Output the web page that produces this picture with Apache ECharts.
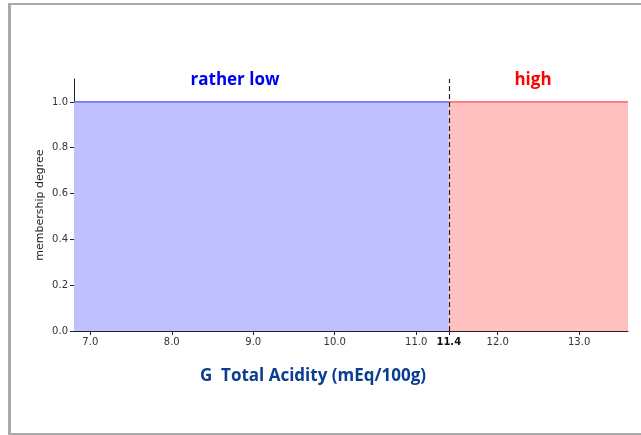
<!DOCTYPE html>
<html><head><meta charset="utf-8">
<script src="https://cdn.jsdelivr.net/npm/echarts@6/dist/echarts.min.js"></script>
<style>html,body{margin:0;padding:0;background:#fff}#c{width:641px;height:435px}</style>
</head><body><div id="c"></div>
<script>
const xRange = [6.8, 13.6];
const yRange = [0, 1.1];
const xTicks = [7.0, 8.0, 9.0, 10.0, 11.0, 11.4, 12.0, 13.0];
const yTicks = [0.0, 0.2, 0.4, 0.6, 0.8, 1.0];
const boundary = 11.4;
const ratherLow = [[6.8, 1.0], [11.4, 1.0]];
const high = [[11.4, 1.0], [13.6, 1.0]];
const labelLow = 'rather low';
const labelHigh = 'high';
const xTitle = 'G  Total Acidity (mEq/100g)';
const yTitle = 'membership degree';

const chart = echarts.init(document.getElementById('c'), null, {renderer: 'canvas'});
const tickFont = {fontFamily: 'DejaVu Sans', fontSize: 10, color: '#333'};
chart.setOption({
  animation: false,
  grid: {left: 74, right: 13, top: 79, bottom: 104, containLabel: false},
  xAxis: {
    type: 'value', min: xRange[0], max: xRange[1],
    splitLine: {show: false},
    axisLine: {show: true, onZero: false, lineStyle: {color: '#222', width: 1}},
    axisTick: {show: true, length: 4, customValues: xTicks, lineStyle: {color: '#222'}},
    axisLabel: Object.assign({customValues: xTicks, margin: 6,
      formatter: v => Math.abs(v - boundary) < 1e-9 ? '{b|' + v.toFixed(1) + '}' : v.toFixed(1),
      rich: {b: {fontFamily: 'DejaVu Sans', fontSize: 10, fontWeight: 'bold', color: '#111'}}}, tickFont)
  },
  yAxis: {
    type: 'value', min: yRange[0], max: yRange[1],
    name: yTitle, nameLocation: 'middle', nameGap: 28, nameMoveOverlap: false,
    nameTextStyle: {fontFamily: 'DejaVu Sans', fontSize: 11, color: '#222'},
    splitLine: {show: false},
    axisLine: {show: true, lineStyle: {color: '#222', width: 1}},
    axisTick: {show: true, length: 4, customValues: yTicks, lineStyle: {color: '#222'}},
    axisLabel: Object.assign({customValues: yTicks, margin: 6, formatter: v => v.toFixed(1)}, tickFont)
  },
  series: [
    {type: 'line', data: ratherLow, symbol: 'none',
     lineStyle: {color: '#4a4aff', width: 1.2},
     areaStyle: {color: '#c0c0ff', opacity: 1},
     markLine: {silent: true, symbol: 'none', label: {show: false},
       lineStyle: {color: '#222', type: [5, 3], width: 1.2},
       data: [{xAxis: boundary}]}},
    {type: 'line', data: high, symbol: 'none',
     lineStyle: {color: '#ff4a4a', width: 1.2},
     areaStyle: {color: '#ffc0c0', opacity: 1}}
  ],
  graphic: [
    {type: 'rect', shape: {x: 8, y: 3, width: 700, height: 2}, style: {fill: '#aaa'}},
    {type: 'rect', shape: {x: 8, y: 3, width: 3, height: 432}, style: {fill: '#aaa'}},
    {type: 'rect', shape: {x: 8, y: 433, width: 700, height: 2}, style: {fill: '#aaa'}},
    {type: 'text', x: 235, y: 80, style: {text: labelLow, fill: '#0000ee', font: 'bold 17px "Open Sans"', textAlign: 'center', textVerticalAlign: 'middle'}},
    {type: 'text', x: 533, y: 80, style: {text: labelHigh, fill: '#ff0000', font: 'bold 17px "Open Sans"', textAlign: 'center', textVerticalAlign: 'middle'}},
    {type: 'text', x: 313, y: 376, style: {text: xTitle, fill: '#0b3d91', font: 'bold 17px "Open Sans"', textAlign: 'center', textVerticalAlign: 'middle'}}
  ]
});
</script></body></html>
